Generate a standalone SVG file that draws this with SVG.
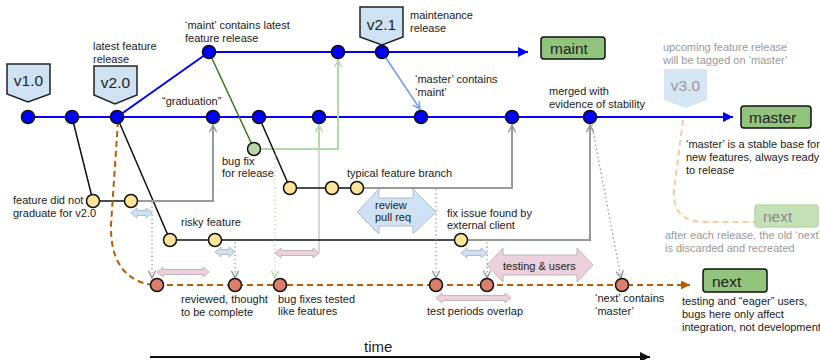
<svg xmlns="http://www.w3.org/2000/svg" width="820" height="360" viewBox="0 0 820 360">
<defs>
<style>
text{font-family:"Liberation Sans",Arial,sans-serif;font-size:11px;fill:#222}
.gray-t{fill:#999}
.tag{fill:#cfe2f3;stroke:#222;stroke-width:1.5}
.tagt{font-size:15.5px;text-anchor:middle}
.box{fill:#93c47d;stroke:#111;stroke-width:1.5}
.boxt{font-size:15.5px}
.c{stroke:#111;stroke-width:1.5}
.blue{fill:#0000ff}
.yel{fill:#ffe599}
.red{fill:#dd7e6b}
.grn{fill:#b6d7a8}
.lb{fill:none;stroke:#0000ff;stroke-width:2}
.lk{fill:none;stroke:#111;stroke-width:1.5}
.lg{fill:none;stroke:#999;stroke-width:2}
.llg{fill:none;stroke:#ccc;stroke-width:1.5}
.lgr{fill:none;stroke:#b6d7a8;stroke-width:2}
.ldg{fill:none;stroke:#38761d;stroke-width:1.5}
.lsb{fill:none;stroke:#6d9eeb;stroke-width:1.5}
.dot{fill:none;stroke:#999;stroke-width:1.5;stroke-dasharray:0.1 4;stroke-linecap:round}
.dotg{fill:none;stroke:#b6d7a8;stroke-width:1.5;stroke-dasharray:0.1 4;stroke-linecap:round}
.dash{fill:none;stroke:#b45f06;stroke-width:2;stroke-dasharray:6 4}
.dashl{fill:none;stroke:#f9cb9c;stroke-width:2;stroke-dasharray:6 4}
.pk{fill:#ead1dc;stroke:#c3b3bb;stroke-width:1}
.bl{fill:#cfe2f3;stroke:#b0bfcc;stroke-width:1}
</style>
<marker id="mBlue" markerUnits="userSpaceOnUse" viewBox="0 0 10 10" markerWidth="11" markerHeight="10" refX="10" refY="5" orient="auto"><path d="M0,0 L10,5 L0,10 z" fill="#0000ff"/></marker>
<marker id="mGray" markerUnits="userSpaceOnUse" viewBox="0 0 10 10" markerWidth="9" markerHeight="9" refX="9" refY="5" orient="auto"><path d="M1,1 L9,5 L1,9" fill="none" stroke="#999" stroke-width="1.6"/></marker>
<marker id="mGreen" markerUnits="userSpaceOnUse" viewBox="0 0 10 10" markerWidth="9" markerHeight="9" refX="9" refY="5" orient="auto"><path d="M1,1 L9,5 L1,9" fill="none" stroke="#b6d7a8" stroke-width="1.6"/></marker>
<marker id="mSky" markerUnits="userSpaceOnUse" viewBox="0 0 10 10" markerWidth="9" markerHeight="9" refX="9" refY="5" orient="auto"><path d="M1,1 L9,5 L1,9" fill="none" stroke="#6d9eeb" stroke-width="1.6"/></marker>
<marker id="mOrange" markerUnits="userSpaceOnUse" viewBox="0 0 10 10" markerWidth="10" markerHeight="9" refX="10" refY="5" orient="auto"><path d="M0,0 L10,5 L0,10 z" fill="#b45f06"/></marker>
<marker id="mBlack" markerUnits="userSpaceOnUse" viewBox="0 0 10 10" markerWidth="12" markerHeight="10" refX="10" refY="5" orient="auto"><path d="M0,0 L10,5 L0,10 z" fill="#111"/></marker>
</defs>
<rect width="820" height="360" fill="#fff"/>

<g id="connectors">
<path class="dashl" d="M683,120 L674,190 Q672,222 705,222 L755,222"/>
<path class="lb" d="M28,117 L733,117" marker-end="url(#mBlue)"/>
<path class="lb" d="M117,117 L209,52"/>
<path class="lb" d="M209,52 L528,52" marker-end="url(#mBlue)"/>
<path class="lsb" d="M382,52 L420,109" marker-end="url(#mSky)"/>
<path class="ldg" d="M209,52 L254,149"/>
<path class="llg" d="M319,253 L319,149"/>
<path class="lgr" d="M254,149 L338,149 L338,60" marker-end="url(#mGreen)"/>
<path class="lgr" d="M319,149 L319,125" marker-end="url(#mGreen)"/>
<path class="lk" d="M72,117 L93,201 L131,201"/>
<path class="lk" d="M117,117 L170,240 L461,240"/>
<path class="lk" d="M259,117 L290,188 L357,188"/>
<path class="lg" d="M131,201 L213,201 L213,125" marker-end="url(#mGray)"/>
<path class="lg" d="M357,188 L512,188 L512,125" marker-end="url(#mGray)"/>
<path class="lg" d="M461,240 L590,240 L590,125" marker-end="url(#mGray)"/>
<path class="dot" d="M152,203 L152,278" marker-end="url(#mGray)"/>
<path class="dot" d="M235,243 L235,278" marker-end="url(#mGray)"/>
<path class="dotg" d="M275,155 L275,278" marker-end="url(#mGreen)"/>
<path class="dot" d="M436,190 L436,278" marker-end="url(#mGray)"/>
<path class="dot" d="M487,243 L487,278" marker-end="url(#mGray)"/>
<path class="dot" d="M592,125 L621,278" marker-end="url(#mGray)"/>
<path class="dash" d="M118,121 L111,225 Q110,278 152,285"/>
<path class="dash" d="M157,285 L690,285" marker-end="url(#mOrange)"/>
<path fill="none" stroke="#111" stroke-width="2" d="M150,357 L650,357" marker-end="url(#mBlack)"/>
</g>

<g id="spans">
<polygon class="bl" points="131,213 137,208 137,210.5 146,210.5 146,208 152,213 146,218 146,215.5 137,215.5 137,218"/>
<polygon class="pk" points="157,272 163,267 163,269.5 203,269.5 203,267 209,272 203,277 203,274.5 163,274.5 163,277"/>
<polygon class="bl" points="215,252 221,247 221,249.5 229,249.5 229,247 235,252 229,257 229,254.5 221,254.5 221,257"/>
<polygon class="pk" points="275,253 281,248 281,250.5 313,250.5 313,248 319,253 313,258 313,255.5 281,255.5 281,258"/>
<polygon class="bl" points="461,253 467,248 467,250.5 481,250.5 481,248 487,253 481,258 481,255.5 467,255.5 467,258"/>
<polygon class="pk" points="436,298 442,293 442,295.5 505,295.5 505,293 511,298 505,303 505,300.5 442,300.5 442,303"/>
</g>

<g id="review">
<polygon class="bl" points="357,212 379,189 379,198 413,198 413,189 436,212 413,234 413,226 379,226 379,234"/>
<text x="375" y="209">review</text>
<text x="375" y="221">pull req</text>
</g>
<g id="testing">
<polygon class="pk" points="487,265 503,248 503,255 577,255 577,248 593,265 577,282 577,275 503,275 503,282"/>
<text x="503" y="270">testing &amp; users</text>
</g>

<g id="tag-v10"><polygon class="tag" points="7,64 50,64 50,94 28,102 7,94"/><text class="tagt" x="28.5" y="86">v1.0</text></g>
<g id="tag-v20"><polygon class="tag" points="94,66 137,66 137,95 115,104 94,95"/><text class="tagt" x="115.5" y="88">v2.0</text></g>
<g id="tag-v21"><polygon class="tag" points="360,7 403,7 403,37 382,45 360,37"/><text class="tagt" x="381.5" y="29.5">v2.1</text></g>
<g id="tag-v30"><polygon fill="#cfe2f3" opacity="0.85" points="664,69 707,69 707,100 686,108 664,100"/><text class="tagt gray-t" x="685.5" y="91">v3.0</text></g>

<g id="branch-maint"><rect class="box" x="541" y="37" width="64" height="22" rx="3"/><text class="boxt" x="550" y="54">maint</text></g>
<g id="branch-master"><rect class="box" x="741" y="106" width="70" height="22" rx="3"/><text class="boxt" x="749" y="123">master</text></g>
<g id="branch-next"><rect class="box" x="703" y="269" width="64" height="23" rx="3"/><text class="boxt" x="712" y="287">next</text></g>
<g id="branch-next-old"><rect x="755" y="205" width="63" height="22" rx="3" fill="#c6e0b9" stroke="#b6d7a8" stroke-width="1.5"/><text class="boxt" x="763" y="222" fill="#888" style="fill:#8a8a8a">next</text></g>

<g id="m1"><circle class="c blue" cx="28" cy="117" r="6.5"/></g>
<g id="m2"><circle class="c blue" cx="72" cy="117" r="6.5"/></g>
<g id="m3"><circle class="c blue" cx="117" cy="117" r="6.5"/></g>
<g id="m4"><circle class="c blue" cx="213" cy="117" r="6.5"/></g>
<g id="m5"><circle class="c blue" cx="259" cy="117" r="6.5"/></g>
<g id="m6"><circle class="c blue" cx="319" cy="117" r="6.5"/></g>
<g id="m7"><circle class="c blue" cx="421" cy="117" r="6.5"/></g>
<g id="m8"><circle class="c blue" cx="512" cy="117" r="6.5"/></g>
<g id="m9"><circle class="c blue" cx="590" cy="117" r="6.5"/></g>
<g id="mt1"><circle class="c blue" cx="209" cy="52" r="6.5"/></g>
<g id="mt2"><circle class="c blue" cx="338" cy="52" r="6.5"/></g>
<g id="mt3"><circle class="c blue" cx="382" cy="52" r="6.5"/></g>
<g id="bugfix"><circle class="c grn" cx="254" cy="149" r="6.5"/></g>
<g id="f1"><circle class="c yel" cx="93" cy="201" r="6.5"/></g>
<g id="f2"><circle class="c yel" cx="131" cy="201" r="6.5"/></g>
<g id="r1"><circle class="c yel" cx="170" cy="240" r="6.5"/></g>
<g id="r2"><circle class="c yel" cx="215" cy="240" r="6.5"/></g>
<g id="r3"><circle class="c yel" cx="461" cy="240" r="6.5"/></g>
<g id="t1"><circle class="c yel" cx="290" cy="188" r="6.5"/></g>
<g id="t2"><circle class="c yel" cx="332" cy="188" r="6.5"/></g>
<g id="t3"><circle class="c yel" cx="357" cy="188" r="6.5"/></g>
<g id="n1"><circle class="c red" cx="157" cy="285" r="6.5"/></g>
<g id="n2"><circle class="c red" cx="235" cy="285" r="6.5"/></g>
<g id="n3"><circle class="c red" cx="280" cy="285" r="6.5"/></g>
<g id="n4"><circle class="c red" cx="436" cy="285" r="6.5"/></g>
<g id="n5"><circle class="c red" cx="487" cy="285" r="6.5"/></g>
<g id="n6"><circle class="c red" cx="622" cy="285" r="6.5"/></g>

<g id="labels">
<text x="93" y="50">latest feature</text><text x="93" y="63">release</text>
<text x="185" y="29">‘maint’ contains latest</text><text x="185" y="42">feature release</text>
<text x="410" y="19">maintenance</text><text x="410" y="32">release</text>
<text x="415" y="83">‘master’ contains</text><text x="415" y="96">‘maint’</text>
<text x="162" y="105">“graduation”</text>
<text x="549" y="95">merged with</text><text x="549" y="108">evidence of stability</text>
<text class="gray-t" x="663" y="51">upcoming feature release</text><text class="gray-t" x="663" y="64">will be tagged on ‘master’</text>
<text x="686" y="148">‘master’ is a stable base for</text><text x="686" y="161">new features, always ready</text><text x="686" y="174">to release</text>
<text class="gray-t" x="665" y="239">after each release, the old ‘next’</text><text class="gray-t" x="665" y="252">is discarded and recreated</text>
<text x="682" y="305">testing and “eager” users,</text><text x="682" y="318">bugs here only affect</text><text x="682" y="331">integration, not development</text>
<text x="595" y="302">‘next’ contains</text><text x="595" y="315">‘master’</text>
<text x="427" y="315">test periods overlap</text>
<text x="278" y="303">bug fixes tested</text><text x="278" y="315">like features</text>
<text x="181" y="303">reviewed, thought</text><text x="181" y="316">to be complete</text>
<text x="181" y="226">risky feature</text>
<text x="13" y="204">feature did not</text><text x="13" y="217">graduate for v2.0</text>
<text x="222" y="165">bug fix</text><text x="222" y="177">for release</text>
<text x="347" y="177">typical feature branch</text>
<text x="447" y="217">fix issue found by</text><text x="447" y="229">external client</text>
<text x="364" y="352" style="font-size:15px">time</text>
</g>
</svg>
